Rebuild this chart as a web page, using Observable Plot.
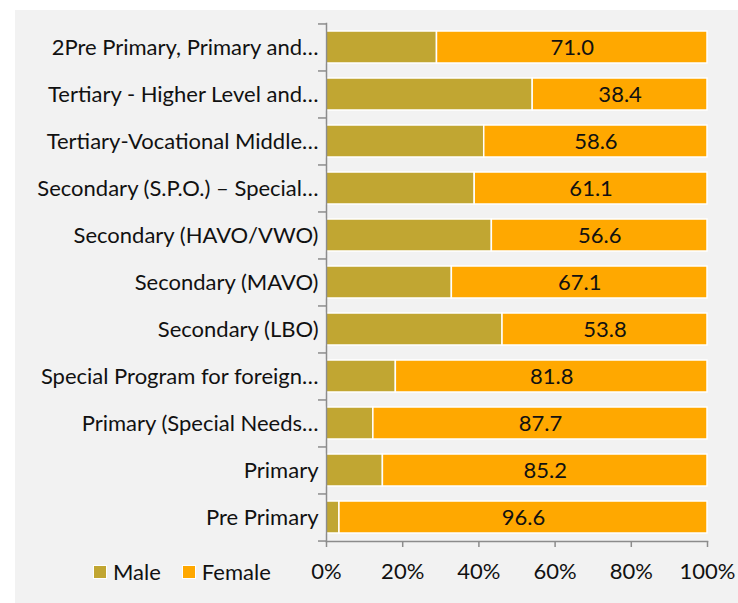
<!DOCTYPE html>
<html>
<head>
<meta charset="utf-8">
<script src="https://cdn.jsdelivr.net/npm/d3@7"></script>
<script src="https://cdn.jsdelivr.net/npm/@observablehq/plot@0.6"></script>
<style>
  html, body { margin: 0; padding: 0; background: #ffffff; }
  #panel { position: absolute; left: 15px; top: 10px; width: 723px; height: 593px; background: #F2F2F2; font-family: Lato, "Open Sans", sans-serif; }
  #chart svg { background: transparent; display: block; }
  .legend { position: absolute; top: 548px; left: 78px; display: flex; align-items: center; font-size: 22px; color: #111; line-height: 28px; }
  .legend .item { display: flex; align-items: center; margin-right: 21px; }
  .legend .sw { width: 12px; height: 12px; border: 1.5px solid #fff; margin-right: 6px; }
</style>
</head>
<body>
<div id="panel">
  <div id="chart"></div>
  <div class="legend" id="legend"></div>
</div>
<script>
const categories = [
  "2Pre Primary, Primary and…",
  "Tertiary - Higher Level and…",
  "Tertiary-Vocational Middle…",
  "Secondary (S.P.O.) – Special…",
  "Secondary (HAVO/VWO)",
  "Secondary (MAVO)",
  "Secondary (LBO)",
  "Special Program for foreign…",
  "Primary (Special Needs…",
  "Primary",
  "Pre Primary"
];
// values stacked to 100% of each bar
const male   = [29.0, 45.3, 41.4, 38.9, 43.4, 32.9, 46.2, 18.2, 12.3, 14.8, 3.4];
const female = [71.0, 38.4, 58.6, 61.1, 56.6, 67.1, 53.8, 81.8, 87.7, 85.2, 96.6];
const series = ["Male", "Female"];
const colors = ["#C1A632", "#FFA800"];
const xTicks = [0, 0.2, 0.4, 0.6, 0.8, 1];

const rows = [];
categories.forEach((c, i) => {
  rows.push({cat: c, sex: "Male", value: male[i]});
  rows.push({cat: c, sex: "Female", value: female[i]});
});

const W = 723, H = 593;
const mL = 311, mR = 31, mT = 13, mB = 62;
const step = (H - mT - mB) / categories.length;
const axisGray = "#8C8C8C";
const tickLen = 8 / (W - mL - mR);
const FS = 22;

const chart = Plot.plot({
  width: W, height: H,
  marginLeft: mL, marginRight: mR, marginTop: mT, marginBottom: mB,
  style: {fontFamily: "Lato, 'Open Sans', sans-serif", fontSize: FS + "px", background: "transparent", color: "#111"},
  x: {domain: [0, 1]},
  y: {domain: categories, paddingInner: 0.32, paddingOuter: 0.16},
  color: {domain: series, range: colors},
  marks: [
    Plot.barX(rows, Plot.stackX({x: "value", y: "cat", fill: "sex", offset: "normalize", stroke: "white", strokeWidth: 1.5})),
    Plot.text(rows, Plot.stackX({x: "value", y: "cat", z: "sex", offset: "normalize",
      text: d => d.sex === "Female" ? d.value.toFixed(1) : "", fill: "#111", fontSize: FS})),
    Plot.frame({anchor: "left", stroke: axisGray, strokeWidth: 1.5}),
    Plot.frame({anchor: "bottom", stroke: axisGray, strokeWidth: 1.5}),
    Plot.ruleY(categories, {y: d => d, x1: -tickLen, x2: 0, dy: -step / 2, stroke: axisGray, strokeWidth: 1.5}),
    Plot.ruleY(categories.slice(-1), {y: d => d, x1: -tickLen, x2: 0, dy: step / 2, stroke: axisGray, strokeWidth: 1.5}),
    Plot.axisX({ticks: xTicks, tickFormat: d => Math.round(d * 100) + "%", tickSize: 6, tickPadding: 16, stroke: axisGray, strokeWidth: 1.5, label: null, fill: "#111", fontSize: FS}),
    Plot.axisY({tickSize: 0, tickPadding: 8, label: null, fill: "#111", fontSize: FS})
  ]
});
document.getElementById("chart").appendChild(chart);

const legend = document.getElementById("legend");
series.forEach((s, i) => {
  const item = document.createElement("div");
  item.className = "item";
  const sw = document.createElement("div");
  sw.className = "sw";
  sw.style.background = colors[i];
  const t = document.createElement("span");
  t.textContent = s;
  item.appendChild(sw); item.appendChild(t);
  legend.appendChild(item);
});
</script>
</body>
</html>
